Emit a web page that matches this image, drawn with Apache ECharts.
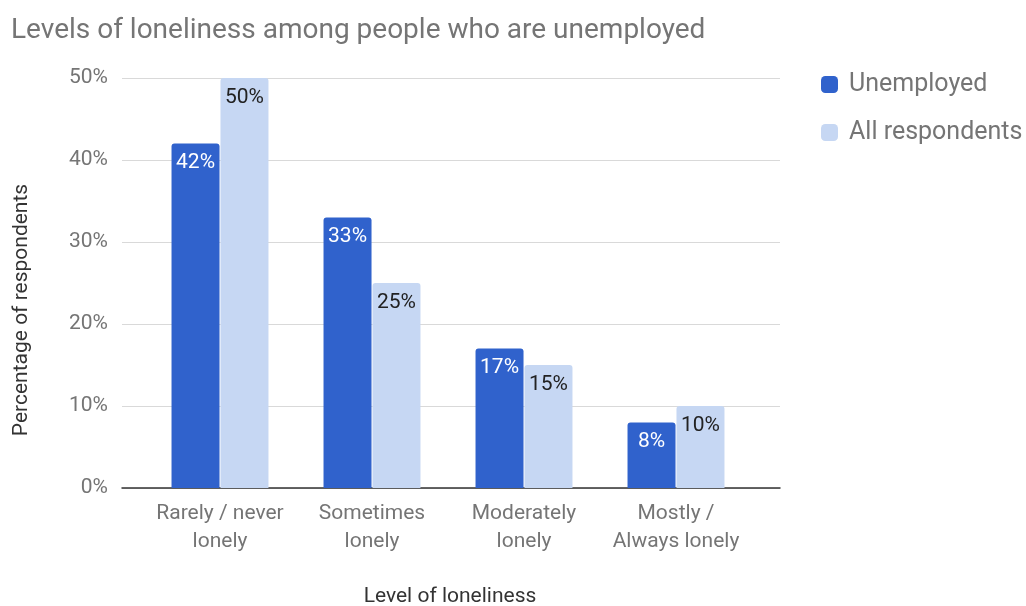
<!DOCTYPE html>
<html>
<head>
<meta charset="utf-8">
<script src="https://cdn.jsdelivr.net/npm/echarts@6/dist/echarts.min.js"></script>
<style>
  html, body { margin: 0; padding: 0; background: #fff; }
  #chart { width: 1026px; height: 606px; }
</style>
</head>
<body>
<div id="chart"></div>
<script>
const categories = ['Rarely / never\nlonely', 'Sometimes\nlonely', 'Moderately\nlonely', 'Mostly /\nAlways lonely'];
const unemployed = [42, 33, 17, 8];
const allRespondents = [50, 25, 15, 10];
const seriesNames = ['Unemployed', 'All respondents'];

const FONT = 'Roboto, "Noto Sans", sans-serif';
const GREY = '#757575';

const chart = echarts.init(document.getElementById('chart'));

const labelStyle = (color) => ({
  show: true,
  position: 'insideTop',
  distance: 9,
  formatter: '{c}%',
  color: color,
  fontFamily: FONT,
  fontSize: 21
});

chart.setOption({
  animation: false,
  title: {
    text: 'Levels of loneliness among people who are unemployed',
    left: 6,
    top: 12,
    textStyle: { fontFamily: FONT, fontSize: 28, fontWeight: 'normal', color: GREY }
  },
  legend: {
    orient: 'vertical',
    left: 816,
    top: 67,
    itemWidth: 17,
    itemHeight: 17,
    itemGap: 23,
    icon: 'roundRect',
    textStyle: { fontFamily: FONT, fontSize: 25, color: GREY, padding: [0, 0, 0, 6] },
    data: seriesNames
  },
  graphic: [{
    type: 'text',
    x: 22,
    y: 310,
    rotation: Math.PI / 2,
    style: {
      text: 'Percentage of respondents',
      fontFamily: FONT,
      fontSize: 21,
      fill: '#333',
      align: 'center',
      verticalAlign: 'middle'
    }
  }, {
    type: 'text',
    x: 450,
    y: 597,
    style: {
      text: 'Level of loneliness',
      fontFamily: FONT,
      fontSize: 21,
      fill: '#333',
      align: 'center',
      verticalAlign: 'middle'
    }
  }],
  grid: [
    { left: 122, right: 246, top: 78, bottom: 118 },
    { left: 144, right: 274, top: 78, bottom: 118 }
  ],
  xAxis: [{
    gridIndex: 0,
    type: 'value',
    min: 0,
    max: 1,
    axisLine: { show: true, lineStyle: { color: '#333', width: 1.5 } },
    axisTick: { show: false },
    axisLabel: { show: false },
    splitLine: { show: false }
  }, {
    gridIndex: 1,
    type: 'category',
    data: categories,
    axisLine: { show: false },
    axisTick: { show: false },
    axisLabel: {
      margin: 12,
      fontFamily: FONT,
      fontSize: 21,
      lineHeight: 28,
      color: GREY,
      interval: 0
    }
  }],
  yAxis: [{
    gridIndex: 0,
    type: 'value',
    min: 0,
    max: 50,
    interval: 10,
    axisLine: { show: false },
    axisTick: { show: false },
    axisLabel: {
      formatter: '{value}%',
      margin: 14,
      fontFamily: FONT,
      fontSize: 21,
      color: GREY
    },
    splitLine: { lineStyle: { color: '#d9d9d9', width: 1 } }
  }, {
    gridIndex: 1,
    type: 'value',
    min: 0,
    max: 50,
    show: false
  }],
  series: [{
    name: seriesNames[0],
    type: 'bar',
    xAxisIndex: 1,
    yAxisIndex: 1,
    data: unemployed,
    barWidth: 48,
    barGap: '2%',
    itemStyle: { color: '#3062cc', borderRadius: [3, 3, 0, 0] },
    label: labelStyle('#ffffff')
  }, {
    name: seriesNames[1],
    type: 'bar',
    xAxisIndex: 1,
    yAxisIndex: 1,
    data: allRespondents,
    barWidth: 48,
    itemStyle: { color: '#c6d7f3', borderRadius: [3, 3, 0, 0] },
    label: labelStyle('#222222')
  }]
});
</script>
</body>
</html>
